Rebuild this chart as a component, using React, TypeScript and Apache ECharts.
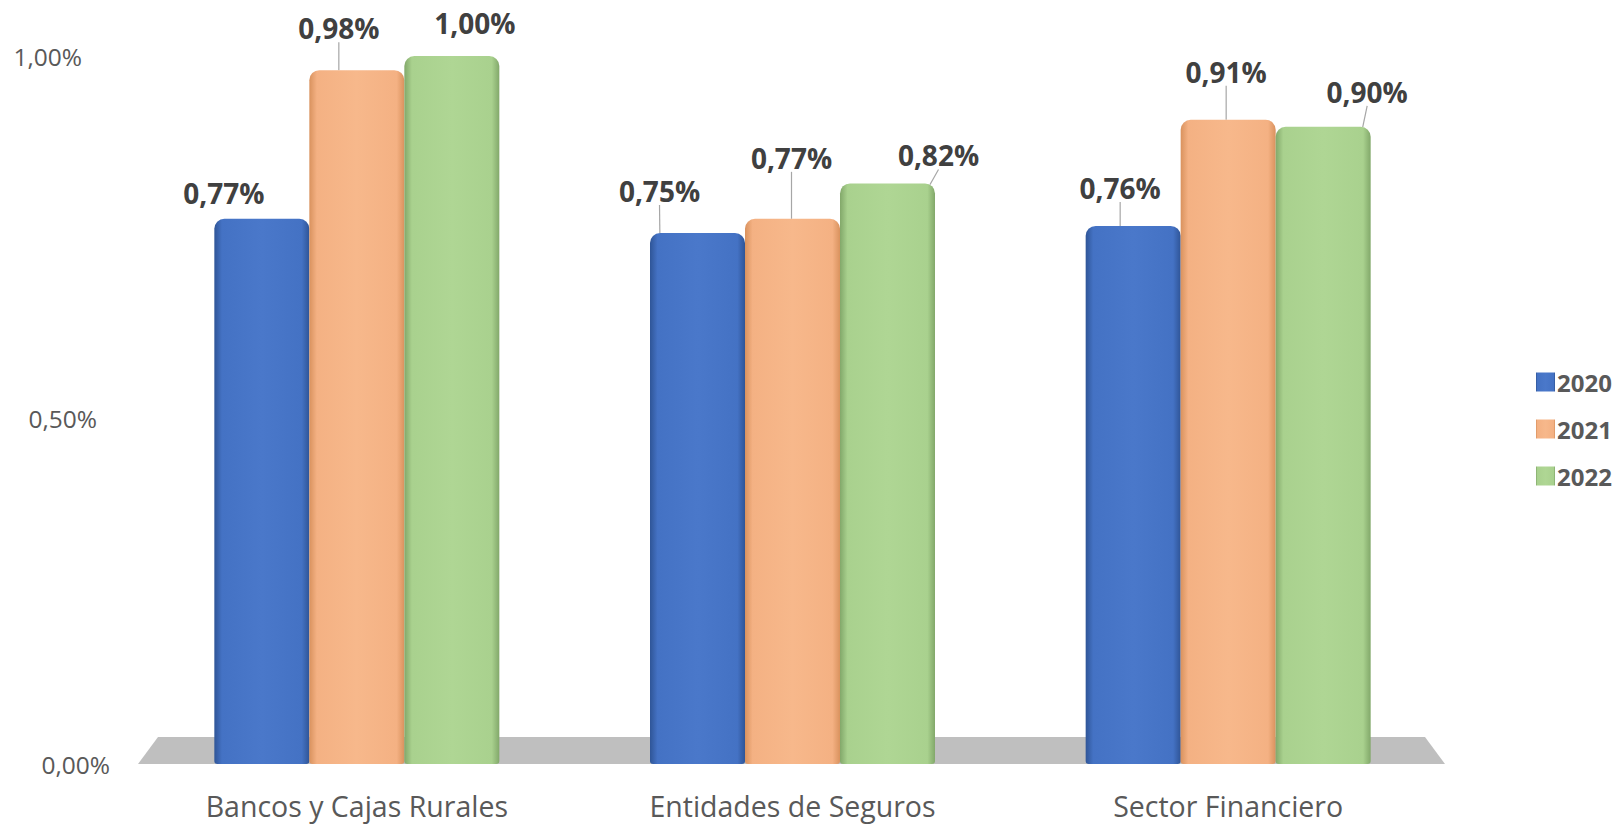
import React, { useEffect, useRef } from "react";
import * as echarts from "echarts";

const categories = ["Bancos y Cajas Rurales", "Entidades de Seguros", "Sector Financiero"];
const seriesNames = ["2020", "2021", "2022"];
const values2020 = [0.77, 0.75, 0.76];
const values2021 = [0.98, 0.77, 0.91];
const values2022 = [1.0, 0.82, 0.9];
const yTicks = [0, 0.5, 1.0];

// style: label offsets (dx, dy) per series / category
const labelOffsets = [
  [[-38, -7], [-38, -23], [-13, -19]],
  [[-18, -23], [-1, -42], [-2, -29]],
  [[23, -14], [51, -9], [44, -16]],
];
// style: whether a leader line is drawn, per series / category
const leaderLines = [
  [false, true, true],
  [true, true, true],
  [false, true, true],
];

const FONT = "'Open Sans', 'Noto Sans', sans-serif";
const GRID = { left: 139, right: 175, top: 56, bottom: 60 };
const W = 1621;
const H = 824;

function barGradient(dark: string, mid: string, light: string) {
  return new echarts.graphic.LinearGradient(0, 0, 1, 0, [
    { offset: 0, color: dark },
    { offset: 0.08, color: mid },
    { offset: 0.5, color: light },
    { offset: 0.92, color: mid },
    { offset: 1, color: dark },
  ]);
}

const palettes = [
  ["#2F5597", "#4472C4", "#4A78CA"],
  ["#D9925E", "#F4B183", "#F7B88B"],
  ["#82A86A", "#A9D18E", "#AFD694"],
];

function fmt(v: number) {
  return v.toFixed(2).replace(".", ",") + "%";
}

export default function App() {
  const ref = useRef<HTMLDivElement>(null);
  useEffect(() => {
    if (!ref.current) return;
    const chart = echarts.init(ref.current, null, { renderer: "svg" });
    const data = [values2020, values2021, values2022];
    const floorTop = H - GRID.bottom - 27;
    const floorBottom = H - GRID.bottom;
    const gl = GRID.left;
    const gr = W - GRID.right;
    chart.setOption({
      animation: false,
      backgroundColor: "#ffffff",
      grid: { ...GRID, containLabel: false },
      legend: {
        orient: "vertical",
        left: 1531,
        top: 365,
        itemWidth: 19,
        itemHeight: 19,
        itemGap: 23,
        icon: "rect",
        textStyle: { fontFamily: FONT, fontSize: 24, fontWeight: "bold", color: "#595959", padding: [0, 0, 0, -3] },
        data: seriesNames,
      },
      graphic: [
        {
          type: "polygon",
          z: 0,
          silent: true,
          shape: {
            points: [
              [gl + 19, floorTop],
              [gr - 21, floorTop],
              [gr - 1, floorBottom],
              [gl - 1, floorBottom],
            ],
          },
          style: { fill: "#BFBFBF" },
        },
      ],
      xAxis: {
        type: "category",
        data: categories,
        axisLine: { show: false },
        axisTick: { show: false },
        axisLabel: {
          margin: 27,
          fontFamily: FONT,
          fontSize: 28.5,
          lineHeight: 29,
          color: "#595959",
        },
      },
      yAxis: {
        type: "value",
        min: 0,
        max: 1,
        interval: 0.5,
        splitLine: { show: false },
        axisLine: { show: false },
        axisTick: { show: false },
        axisLabel: {
          margin: 29,
          formatter: (v: number) => {
            const t = fmt(v);
            if (v >= 1) return "{a|" + t + "}";
            if (v >= 0.5) return "{b|" + t + "}";
            return "{c|" + t + "}";
          },
          rich: {
            a: { fontFamily: FONT, fontSize: 24.5, color: "#595959", padding: [0, 28, 0, 0] },
            b: { fontFamily: FONT, fontSize: 24.5, color: "#595959", padding: [16, 13, 0, 0] },
            c: { fontFamily: FONT, fontSize: 24.5, color: "#595959", padding: [0, 0, 0, 0] },
          },
        },
      },
      series: seriesNames.map((name, si) => ({
        name,
        type: "bar",
        barWidth: 95,
        barGap: "0%",
        z: 3,
        data: data[si].map((v, ci) => ({
          value: v,
          labelLine: { show: leaderLines[si][ci] },
        })),
        itemStyle: {
          color: barGradient(palettes[si][0], palettes[si][1], palettes[si][2]),
          borderRadius: [10, 10, 3, 3],
        },
        label: {
          show: true,
          position: "top",
          distance: 5,
          fontFamily: FONT,
          fontSize: 28,
          fontWeight: "bold",
          color: "#404040",
          formatter: (p: any) => fmt(p.value),
        },
        labelLine: { show: true, lineStyle: { color: "#A6A6A6", width: 1.2 } },
        labelLayout: (p: any) => {
          const o = labelOffsets[p.seriesIndex][p.dataIndex];
          return { dx: o[0], dy: o[1] };
        },
      })),
    });
    return () => chart.dispose();
  }, []);
  return (
    <div
      ref={ref}
      style={{ position: "fixed", left: 0, top: 0, width: W, height: H, background: "#fff" }}
    />
  );
}
